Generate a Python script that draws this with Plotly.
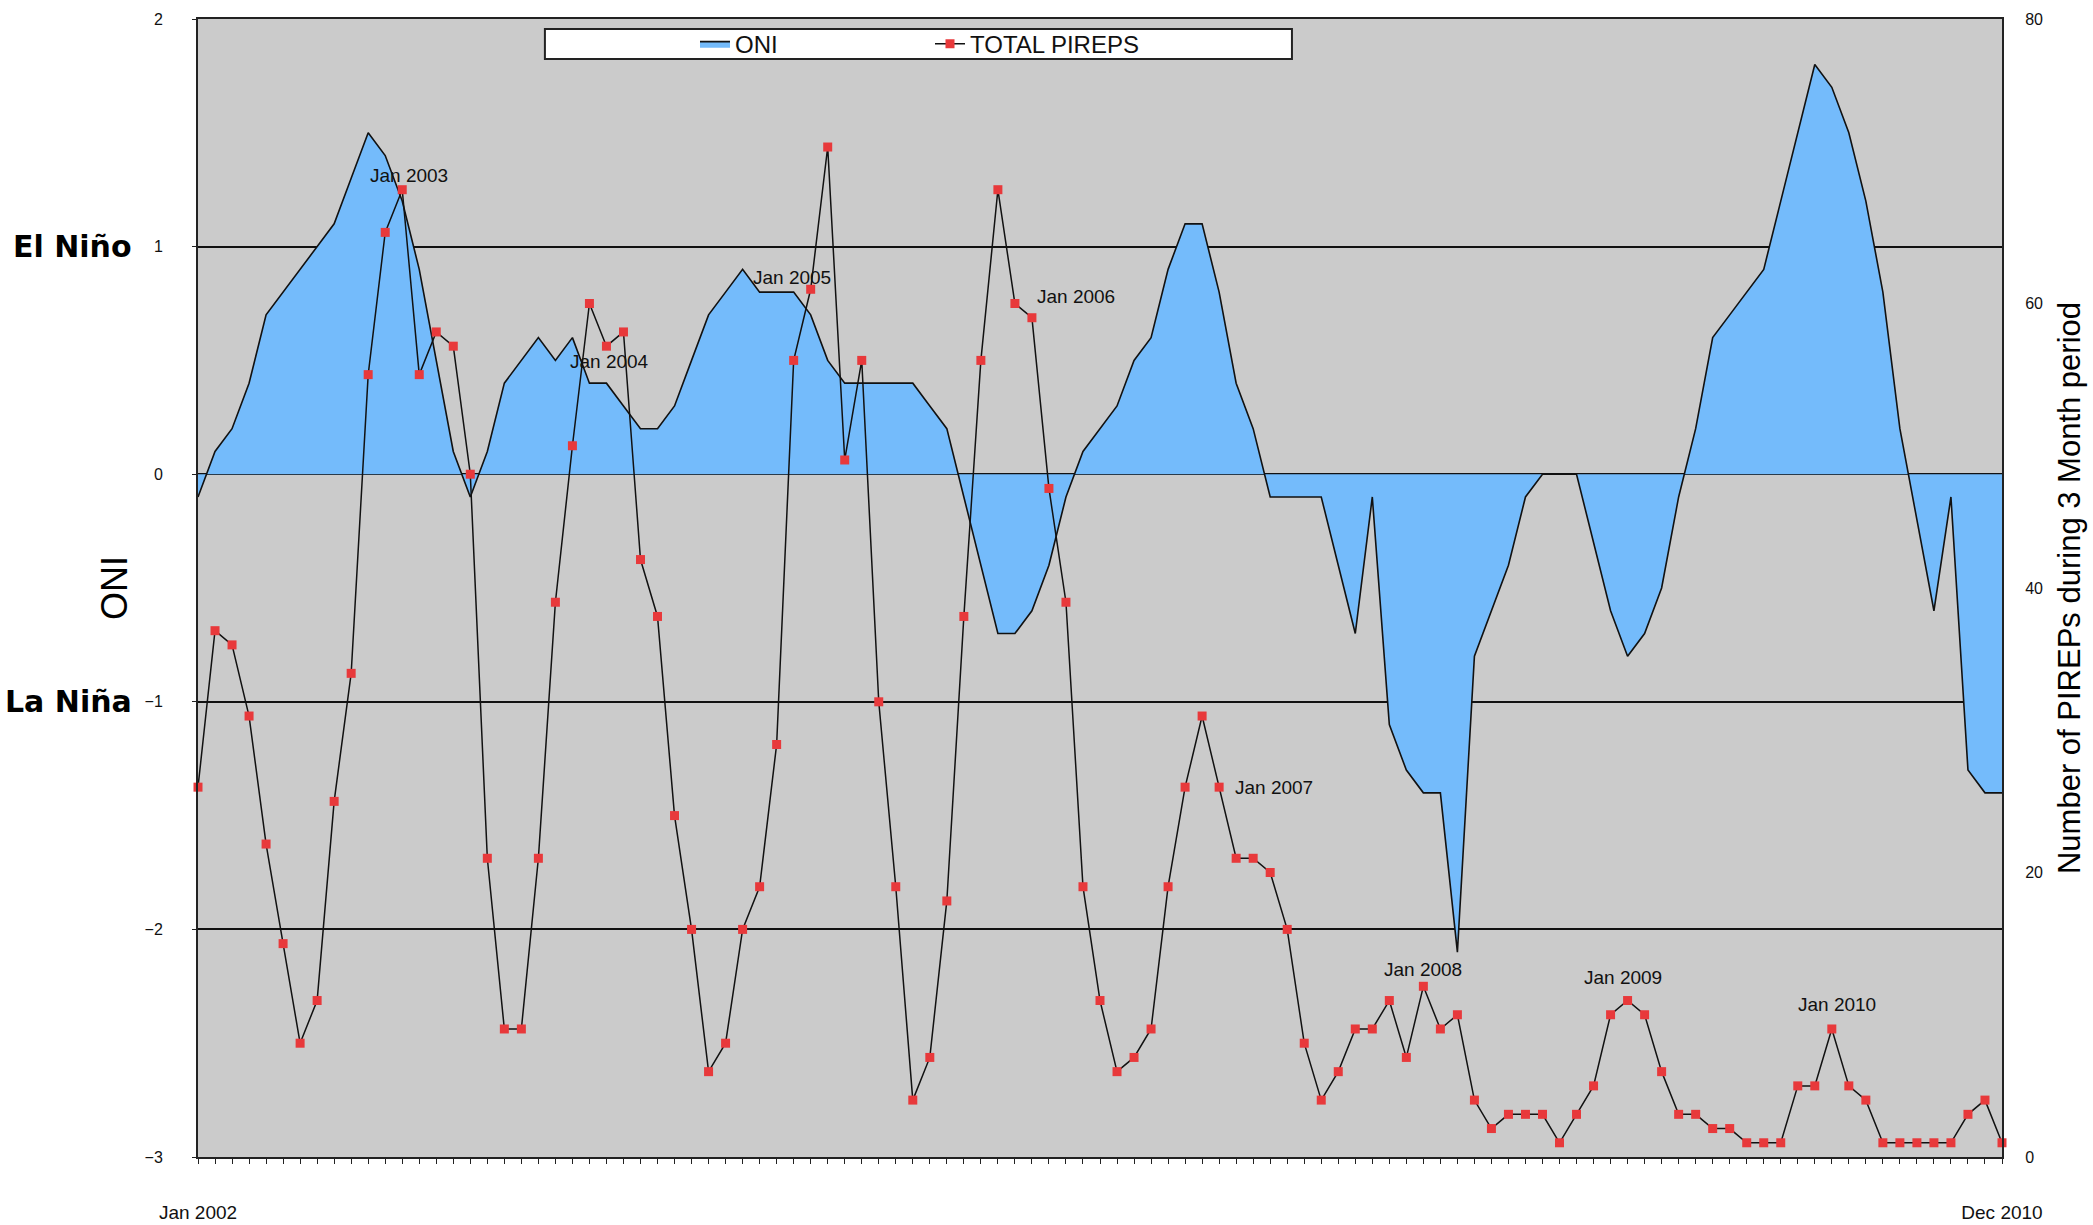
import plotly.graph_objects as go

# ---- data ----
oni = [-0.1, 0.1, 0.2, 0.4, 0.7, 0.8, 0.9, 1.0, 1.1, 1.3, 1.5, 1.4, 1.2, 0.9, 0.5, 0.1,
       -0.1, 0.1, 0.4, 0.5, 0.6, 0.5, 0.6, 0.4, 0.4, 0.3, 0.2, 0.2, 0.3, 0.5, 0.7, 0.8,
       0.9, 0.8, 0.8, 0.8, 0.7, 0.5, 0.4, 0.4, 0.4, 0.4, 0.4, 0.3, 0.2, -0.1, -0.4, -0.7,
       -0.7, -0.6, -0.4, -0.1, 0.1, 0.2, 0.3, 0.5, 0.6, 0.9, 1.1, 1.1, 0.8, 0.4, 0.2, -0.1,
       -0.1, -0.1, -0.1, -0.4, -0.7, -0.1, -1.1, -1.3, -1.4, -1.4, -2.1, -0.8, -0.6, -0.4,
       -0.1, 0.0, 0.0, 0.0, -0.3, -0.6, -0.8, -0.7, -0.5, -0.1, 0.2, 0.6, 0.7, 0.8, 0.9,
       1.2, 1.5, 1.8, 1.7, 1.5, 1.2, 0.8, 0.2, -0.2, -0.6, -0.1, -1.3, -1.4, -1.4]

pireps = [26, 37, 36, 31, 22, 15, 8, 11, 25, 34, 55, 65, 68, 55, 58, 57, 48, 21, 9, 9,
          21, 39, 50, 60, 57, 58, 42, 38, 24, 16, 6, 8, 16, 19, 29, 56, 61, 71, 49, 56,
          32, 19, 4, 7, 18, 38, 56, 68, 60, 59, 47, 39, 19, 11, 6, 7, 9, 19, 26, 31,
          26, 21, 21, 20, 16, 8, 4, 6, 9, 9, 11, 7, 12, 9, 10, 4, 2, 3, 3, 3,
          1, 3, 5, 10, 11, 10, 6, 3, 3, 2, 2, 1, 1, 1, 5, 5, 9, 5, 4, 1,
          1, 1, 1, 1, 3, 4, 1]

period_index = list(range(len(oni)))
x_tick_text = ["Jan 2002"] + [""] * (len(oni) - 2) + ["Dec 2010"]

jan_labels = ["Jan 2003", "Jan 2004", "Jan 2005", "Jan 2006",
              "Jan 2007", "Jan 2008", "Jan 2009", "Jan 2010"]
jan_index = [12, 24, 36, 48, 60, 72, 84, 96]

oni_ticks = [-3, -2, -1, 0, 1, 2]
pirep_ticks = [0, 20, 40, 60, 80]

# ---- styling ----
FONT = "Liberation Sans, Arial, Helvetica, sans-serif"
label_shift = [(7, 14), (3, -15), (-19, 12), (61, 7), (55, 0), (0, 17), (-5, 23), (5, 24)]

fig = go.Figure()

fig.add_trace(go.Scatter(
    x=period_index, y=oni, name="ONI", mode="lines",
    line=dict(color="#111111", width=1.6),
    fill="tozeroy", fillcolor="#74BBFB",
    yaxis="y",
))

fig.add_trace(go.Scatter(
    x=period_index, y=pireps, name="TOTAL PIREPS", mode="lines+markers",
    line=dict(color="#111111", width=1.5),
    marker=dict(symbol="square", size=9, color="#E8393B"),
    cliponaxis=False,
    yaxis="y2",
))

annotations = []
for txt, idx, (dx, dy) in zip(jan_labels, jan_index, label_shift):
    annotations.append(dict(
        x=idx, y=pireps[idx], xref="x", yref="y2", text=txt, showarrow=False,
        xshift=dx, yshift=dy, font=dict(family=FONT, size=19, color="#111111"),
    ))

for txt, yv in (("El Niño", 1), ("La Niña", -1)):
    annotations.append(dict(x=0, y=yv, xref="paper", yref="y", text="<b>" + txt + "</b>",
                            showarrow=False, xanchor="right", xshift=-64,
                            font=dict(family="DejaVu Sans, sans-serif", size=30,
                                      color="#000000")))

fig.update_layout(
    width=2093, height=1225,
    margin=dict(l=198, r=91, t=19, b=68),
    paper_bgcolor="white", plot_bgcolor="#CBCBCB",
    font=dict(family=FONT, color="#111111"),
    showlegend=True,
    legend=dict(orientation="h", x=0.2755, xanchor="left", y=0.978, yanchor="middle",
                bgcolor="rgba(0,0,0,0)", borderwidth=0, entrywidth=190,
                font=dict(family=FONT, size=24, color="#111111")),
    annotations=annotations,
    shapes=[dict(type="rect", xref="paper", yref="paper", x0=0.1923, x1=0.6064,
                 y0=0.9649, y1=0.9912, fillcolor="white",
                 line=dict(color="#222222", width=2), layer="above")],
    xaxis=dict(range=[0, len(oni) - 1], tickmode="array", tickvals=period_index,
               ticktext=x_tick_text, ticks="outside", ticklen=5, tickwidth=1.2,
               tickcolor="#222222", showgrid=False, zeroline=False,
               showline=True, linecolor="#222222", linewidth=2, mirror=True,
               tickangle=0, ticklabelstandoff=32, automargin=False,
               tickfont=dict(family=FONT, size=19, color="#111111")),
    yaxis=dict(range=[-3, 2], tickvals=oni_ticks, ticks="outside", ticklen=4,
               tickcolor="#222222", showgrid=True, gridcolor="#111111", gridwidth=1.5,
               zeroline=False, showline=True, linecolor="#222222", linewidth=2,
               ticklabelstandoff=26, automargin=False,
               tickfont=dict(family=FONT, size=16, color="#111111"),
               title=dict(text="ONI", font=dict(family=FONT, size=36, color="#000000"),
                          standoff=6)),
    yaxis2=dict(range=[0, 80], tickvals=pirep_ticks, overlaying="y", side="right",
                showgrid=False, zeroline=False, showline=True, linecolor="#222222",
                linewidth=2, ticklabelstandoff=18, automargin=False,
                tickfont=dict(family=FONT, size=16, color="#111111"),
                title=dict(text="Number of PIREPs during 3 Month period",
                           font=dict(family=FONT, size=31, color="#000000"), standoff=16)),
)

fig.write_html("out.html")
